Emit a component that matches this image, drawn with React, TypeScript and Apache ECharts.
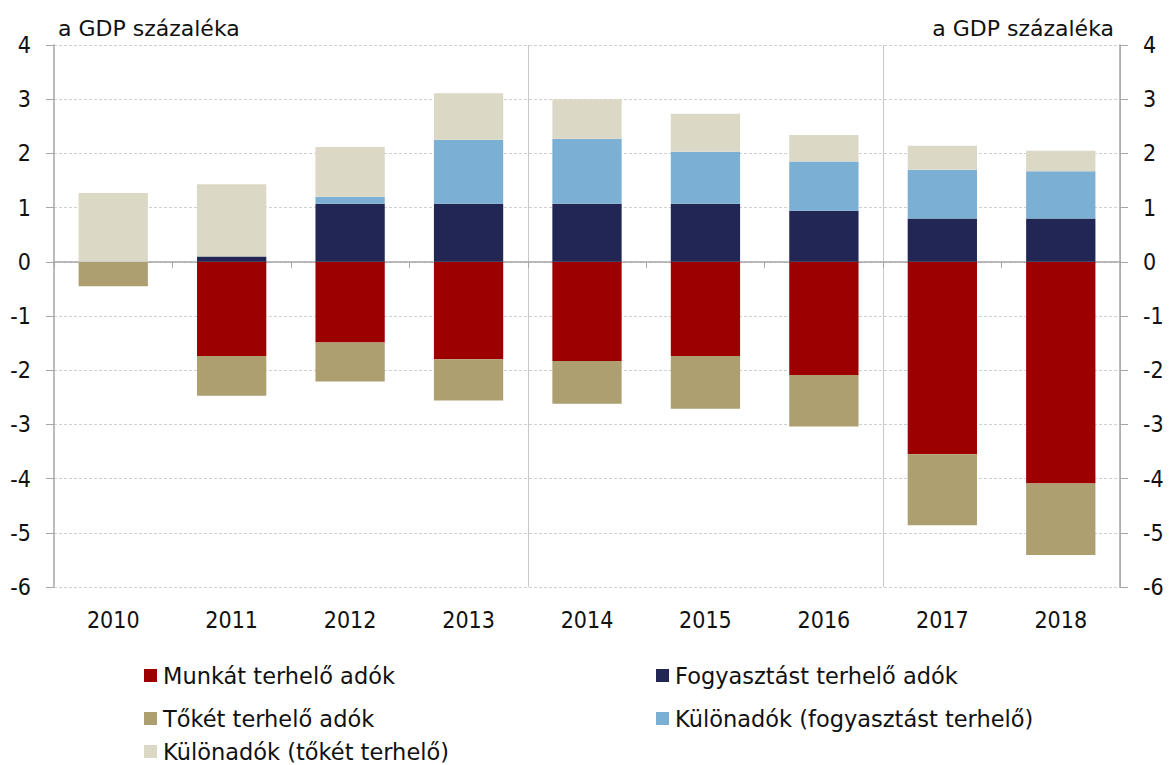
import React, { useEffect, useRef } from "react";
import * as echarts from "echarts";

const years = ["2010", "2011", "2012", "2013", "2014", "2015", "2016", "2017", "2018"];
const munka = [0, -1.74, -1.49, -1.8, -1.83, -1.74, -2.09, -3.55, -4.09];
const fogyasztas = [0, 0.1, 1.07, 1.07, 1.07, 1.07, 0.94, 0.8, 0.8];
const toke = [-0.45, -0.73, -0.72, -0.76, -0.79, -0.97, -0.95, -1.31, -1.32];
const kulonFogy = [0, 0, 0.13, 1.18, 1.2, 0.96, 0.91, 0.9, 0.87];
const kulonToke = [1.27, 1.33, 0.92, 0.86, 0.73, 0.7, 0.49, 0.44, 0.38];
const seriesNames = [
  "Munkát terhelő adók",
  "Fogyasztást terhelő adók",
  "Tőkét terhelő adók",
  "Különadók (fogyasztást terhelő)",
  "Különadók (tőkét terhelő)",
];
const colors = ["#9c0000", "#212655", "#ad9f70", "#7bafd4", "#dcd8c6"];
const unitLabel = "a GDP százaléka";

const FONT_NUM = "'DejaVu Sans Condensed', 'DejaVu Sans', sans-serif";
const FONT = "'DejaVu Sans', sans-serif";

export default function App() {
  const ref = useRef<HTMLDivElement>(null);
  useEffect(() => {
    const chart = echarts.init(ref.current!, null, { renderer: "svg" });
    const data = [munka, fogyasztas, toke, kulonFogy, kulonToke];
    const legendPos = [
      { left: 144, top: 664 },
      { left: 656, top: 664 },
      { left: 144, top: 707 },
      { left: 656, top: 707 },
      { left: 144, top: 740 },
    ];
    chart.setOption({
      animation: false,
      textStyle: { fontFamily: FONT },
      grid: { left: 54, right: 51, top: 45, bottom: 178, containLabel: false },
      legend: seriesNames.map((n, i) => ({
        data: [n],
        left: legendPos[i].left,
        top: legendPos[i].top,
        padding: 0,
        icon: "rect",
        itemWidth: 13,
        itemHeight: 13,
        itemGap: 4,
        selectedMode: false,
        textStyle: { fontSize: 22.5, color: "#111", fontFamily: FONT, padding: [0, 0, 0, 1] },
      })),
      graphic: [
        {
          type: "text",
          x: 58,
          y: 28,
          style: { text: unitLabel, fontSize: 22, fill: "#111", fontFamily: FONT, verticalAlign: "middle", align: "left" },
        },
        {
          type: "text",
          x: 1114,
          y: 28,
          style: { text: unitLabel, fontSize: 22, fill: "#111", fontFamily: FONT, verticalAlign: "middle", align: "right" },
        },
      ],
      xAxis: {
        type: "category",
        data: years,
        axisLine: { onZero: true, lineStyle: { color: "#a6a6a6", width: 1.5 } },
        axisTick: { show: true, length: 6, lineStyle: { color: "#a6a6a6" } },
        axisLabel: {
          fontSize: 23,
          color: "#111",
          fontFamily: FONT_NUM,
          margin: 33,
          verticalAlign: "middle",
        },
        splitLine: {
          show: true,
          interval: (index: number) => index === 4 || index === 7,
          lineStyle: { color: "#c8c8c8", width: 1 },
        },
      },
      yAxis: [
        {
          type: "value",
          min: -6,
          max: 4,
          interval: 1,
          axisLine: { show: true, lineStyle: { color: "#a6a6a6", width: 1.5 } },
          axisTick: { show: true, length: 8, lineStyle: { color: "#a6a6a6" } },
          axisLabel: { fontSize: 23, color: "#111", fontFamily: FONT_NUM, margin: 23 },
          splitLine: { show: true, lineStyle: { color: "#d0d0d0", type: [3, 2] } },
        },
        {
          type: "value",
          min: -6,
          max: 4,
          interval: 1,
          position: "right",
          axisLine: { show: true, lineStyle: { color: "#a6a6a6", width: 1.5 } },
          axisTick: { show: true, length: 8, lineStyle: { color: "#a6a6a6" } },
          axisLabel: { fontSize: 23, color: "#111", fontFamily: FONT_NUM, margin: 23 },
          splitLine: { show: false },
        },
      ],
      series: seriesNames.map((n, i) => ({
        name: n,
        type: "bar",
        stack: "total",
        barWidth: "58.5%",
        itemStyle: { color: colors[i] },
        data: data[i],
      })),
    });
    return () => chart.dispose();
  }, []);
  return (
    <div
      ref={ref}
      style={{ position: "absolute", left: 0, top: 0, width: 1171, height: 765 }}
    />
  );
}
